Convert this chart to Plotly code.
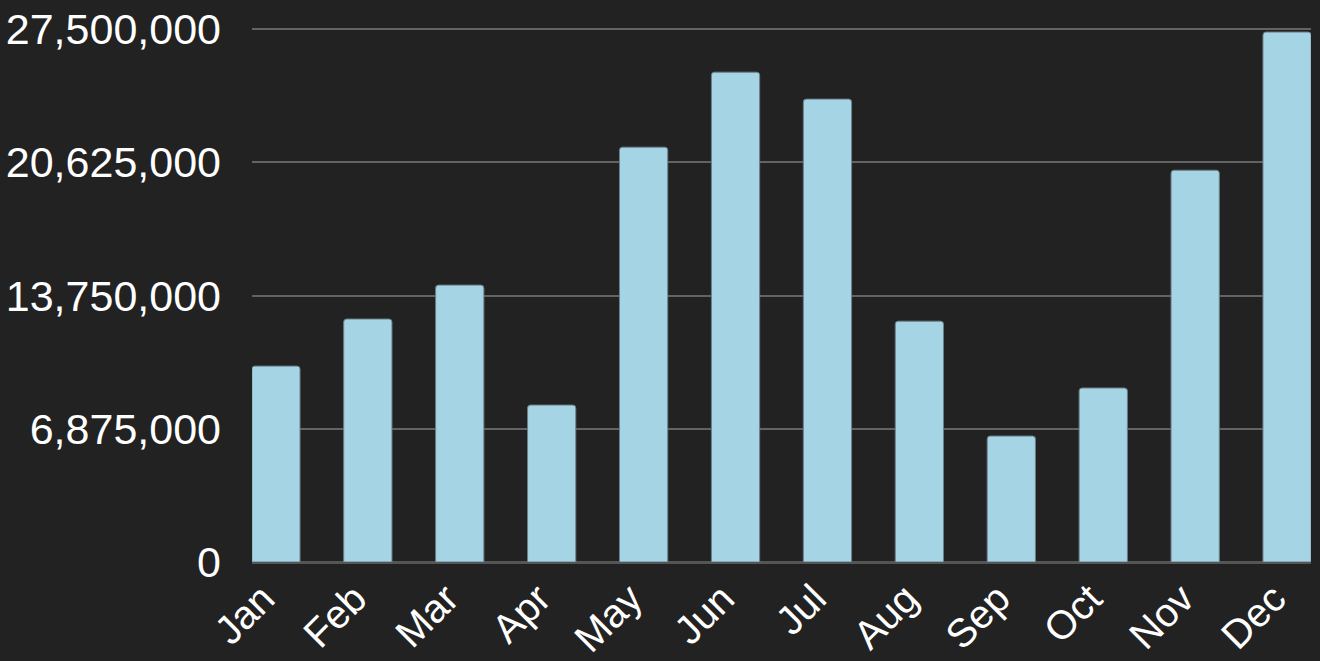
import plotly.graph_objects as go

months = ["Jan", "Feb", "Mar", "Apr", "May", "Jun", "Jul", "Aug", "Sep", "Oct", "Nov", "Dec"]
values = [10110000, 12540000, 14290000, 8100000, 21410000, 25280000,
          23890000, 12430000, 6500000, 8980000, 20220000, 27350000]
y_ticks = [0, 6875000, 13750000, 20625000, 27500000]
y_tick_labels = ["0", "6,875,000", "13,750,000", "20,625,000", "27,500,000"]

fig = go.Figure(go.Bar(
    x=months, y=values,
    marker=dict(color="#a5d4e5", line=dict(color="#6b7f88", width=1), cornerradius=3),
))

fig.update_layout(
    width=1320, height=661,
    paper_bgcolor="#222222", plot_bgcolor="#222222",
    margin=dict(l=252, r=9, t=28, b=99),
    bargap=0.475,
    showlegend=False,
    font=dict(family="Liberation Sans, Arial, sans-serif", color="white"),
)
fig.update_xaxes(
    range=[-0.26, 11.26], tickangle=-45, tickfont=dict(size=40),
    showgrid=False, showline=False, zeroline=False,
    ticks="", ticklabelstandoff=4, ticklabelshift=-13, automargin=False,
)
fig.update_yaxes(
    range=[0, 27560000], tickvals=y_ticks, ticktext=y_tick_labels,
    tickfont=dict(size=43), gridcolor="#636363", gridwidth=2,
    zeroline=True, zerolinecolor="#555555", zerolinewidth=3,
    ticks="", ticklabelstandoff=30, automargin=False,
)

fig.write_html(
    "out.html",
    config={"displayModeBar": False},
    post_script="document.body.style.margin='0';document.body.style.background='#222222';",
)
